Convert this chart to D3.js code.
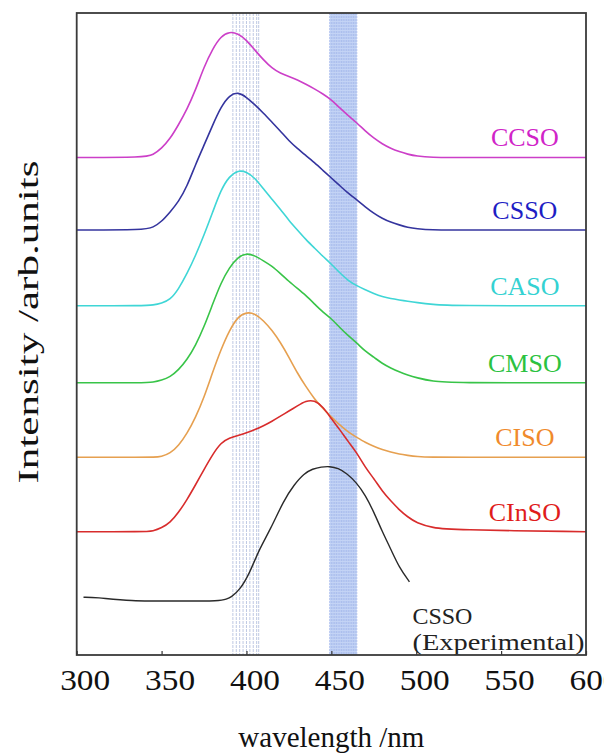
<!DOCTYPE html>
<html>
<head>
<meta charset="utf-8">
<script src="https://cdn.jsdelivr.net/npm/d3@7"></script>
<style>
  body { margin: 0; background: #fff; }
  svg { display: block; }
  text { font-family: "Liberation Serif", "Times New Roman", Times, serif; }
</style>
</head>
<body>
<svg id="chart"></svg>
<script>
// wavelength grid (nm) shared by the simulated spectra
var wavelengths = [300, 340, 345, 350, 355, 360, 365, 370, 375, 380, 385, 390, 395, 400, 405, 410, 415, 420, 425, 430,
                   435, 440, 445, 450, 455, 460, 465, 470, 475, 480, 485, 490, 495, 500, 510, 520, 600];

var ccso  = [0, 0, 0.4, 1.4, 2.9, 5.1, 7.5, 10.5, 14.1, 16.9, 18.9, 19.6, 19.3, 18.3, 16.7, 15.2, 13.9, 13.1, 12.6, 12.1,
             11.4, 10.7, 9.9, 9.0, 7.7, 6.5, 5.4, 4.1, 3.0, 2.1, 1.4, 0.9, 0.5, 0.2, 0, 0, 0];
var csso  = [0, 0, 0.4, 1.3, 2.8, 4.4, 6.8, 10.2, 13.2, 16.3, 19.2, 21.0, 21.5, 20.7, 19.5, 18.2, 16.8, 15.4, 13.9, 12.7,
             11.6, 10.5, 9.3, 8.1, 6.9, 5.7, 4.7, 3.6, 2.6, 1.8, 1.2, 0.8, 0.4, 0.2, 0, 0, 0];
var caso  = [0, 0, 0.1, 0.4, 0.9, 2.6, 5.0, 7.8, 11.0, 14.5, 18.1, 20.2, 21.1, 20.9, 19.9, 18.2, 16.6, 15.0, 13.3, 11.8,
             10.3, 9.0, 7.7, 6.5, 5.1, 3.9, 3.1, 2.5, 1.9, 1.4, 1.1, 0.9, 0.7, 0.5, 0.2, 0, 0];
var cmso  = [0, 0, 0.1, 0.4, 0.9, 2.0, 3.6, 5.8, 8.7, 12.2, 15.6, 18.0, 19.6, 20.2, 19.8, 19.0, 18.2, 17.0, 15.8, 14.7,
             13.6, 12.3, 11.0, 10.0, 8.6, 7.3, 6.2, 4.9, 4.0, 3.0, 2.3, 1.7, 1.2, 0.8, 0.2, 0, 0];
var ciso  = [0, 0, 0, 0.1, 0.6, 1.8, 3.7, 6.2, 9.3, 13.2, 16.8, 19.8, 21.9, 22.6, 22.4, 21.3, 19.8, 17.9, 15.6, 13.1,
             11.0, 9.1, 7.6, 6.3, 5.0, 3.9, 3.1, 2.3, 1.7, 1.2, 0.8, 0.5, 0.3, 0.1, 0, 0, 0];
var cinso = [0, 0, 0.1, 0.6, 1.4, 3.0, 5.0, 7.3, 9.7, 12.0, 13.9, 14.6, 15.0, 15.4, 15.9, 16.5, 17.2, 18.0, 18.8, 19.6,
             20.4, 20.5, 19.5, 17.6, 15.9, 14.0, 12.3, 10.0, 8.3, 6.3, 4.8, 3.4, 2.3, 1.4, 0.6, 0.3, 0];

var names   = ["CCSO", "CSSO", "CASO", "CMSO", "CISO", "CInSO"];
var offsets = [77.5, 66.2, 54.4, 42.4, 30.8, 19.2];   // vertical shift of each spectrum

// measured spectrum
var expWavelengths = [304, 311, 331, 360, 385, 388, 391, 396, 402, 407, 414, 422, 428, 434, 439, 444, 449, 454, 459, 465,
                      470, 475, 480, 485, 490, 496];
var expValues      = [9.0, 9.0, 8.4, 8.4, 8.4, 8.7, 9.0, 10.1, 12.8, 16.2, 19.5, 24.1, 26.5, 28.3, 29.0, 29.3, 29.4, 29.1, 28.3, 26.8,
                      24.9, 22.3, 19.2, 16.5, 13.6, 11.4];

// marked wavelengths
var thinLines = [392, 394, 396, 398, 400, 402, 404, 406, 407.2];
var bandFrom = 449, bandTo = 465;

var xTicks = [300, 350, 400, 450, 500, 550, 600];

var colors = ["#cc3fc8", "#34349e", "#3fd6d6", "#38c448", "#e6a050", "#d82c2c"];
var labelColors = ["#d024c8", "#1e1ec4", "#34d2d2", "#2cc240", "#f08a2c", "#e01c1c"];

var width = 604, height = 753;
var margin = { left: 76.7, top: 13, right: 18, bottom: 98 };
var innerW = width - margin.left - margin.right;
var innerH = height - margin.top - margin.bottom;

var svg = d3.select("#chart").attr("width", width).attr("height", height);
var g = svg.append("g").attr("transform", "translate(" + margin.left + "," + margin.top + ")");

var x = d3.scaleLinear().domain([300, 600]).range([0, innerW]);
var y = d3.scaleLinear().domain([0, 100]).range([innerH, 0]);

// shaded band
var bandG = g.append("g");
bandG.append("rect")
    .attr("x", x(bandFrom)).attr("y", 0)
    .attr("width", x(bandTo) - x(bandFrom)).attr("height", innerH)
    .attr("fill", "#c3d3f5");
bandG.selectAll("line")
    .data(d3.range(bandFrom, bandTo + 1, 1))
    .enter().append("line")
    .attr("x1", function(d) { return x(d); }).attr("x2", function(d) { return x(d); })
    .attr("y1", 0).attr("y2", innerH)
    .attr("stroke", "#a0b5e9").attr("stroke-width", 0.7)
    .attr("stroke-dasharray", "2,1");

g.append("g").selectAll("line")
    .data(thinLines)
    .enter().append("line")
    .attr("x1", function(d) { return x(d); }).attr("x2", function(d) { return x(d); })
    .attr("y1", 0).attr("y2", innerH)
    .attr("stroke", "#b8c3e0").attr("stroke-width", 0.9)
    .attr("stroke-dasharray", "3,1");

// spectra
var line = d3.line()
    .x(function(d) { return x(d[0]); })
    .y(function(d) { return y(d[1]); })
    .curve(d3.curveBasis);

var series = [ccso, csso, caso, cmso, ciso, cinso];
series.forEach(function(vals, i) {
    var pts = wavelengths.map(function(w, j) { return [w, vals[j] + offsets[i]]; });
    g.append("path")
        .datum(pts)
        .attr("d", line)
        .attr("fill", "none")
        .attr("stroke", colors[i])
        .attr("stroke-width", 1.6);

    g.append("text")
        .attr("x", x(564))
        .attr("y", y(offsets[i]) - 11)
        .attr("text-anchor", "middle")
        .attr("font-size", 26)
        .attr("fill", labelColors[i])
        .text(names[i]);
});

var expPts = expWavelengths.map(function(w, j) { return [w, expValues[j]]; });
g.append("path")
    .datum(expPts)
    .attr("d", line)
    .attr("fill", "none")
    .attr("stroke", "#2a2a2a")
    .attr("stroke-width", 1.4);

var expX = x(expWavelengths[expWavelengths.length - 1]) + 3;
g.append("text")
    .attr("x", expX).attr("y", innerH - 31)
    .attr("font-size", 24).attr("fill", "#222")
    .attr("textLength", 60).attr("lengthAdjust", "spacingAndGlyphs")
    .text("CSSO");
g.append("text")
    .attr("x", expX).attr("y", innerH - 5)
    .attr("font-size", 24).attr("fill", "#222")
    .attr("textLength", 172).attr("lengthAdjust", "spacingAndGlyphs")
    .text("(Experimental)");

// x axis with inward ticks
var xAxis = d3.axisBottom(x).tickValues(xTicks).tickSizeInner(-4).tickSizeOuter(0);
var xAxisG = g.append("g")
    .attr("transform", "translate(0," + innerH + ")")
    .call(xAxis);
xAxisG.select(".domain").remove();
xAxisG.selectAll(".tick line").attr("stroke", "#333").attr("stroke-width", 1.2);
xAxisG.selectAll(".tick text")
    .attr("y", 35).attr("dy", 0).attr("dx", 8)
    .attr("font-size", 30)
    .attr("font-family", "Liberation Serif, Times New Roman, serif")
    .attr("fill", "#111")
    .attr("textLength", 50).attr("lengthAdjust", "spacingAndGlyphs");

// frame
g.append("rect")
    .attr("x", 0).attr("y", 0)
    .attr("width", innerW).attr("height", innerH)
    .attr("fill", "none")
    .attr("stroke", "#3a3a3a")
    .attr("stroke-width", 1.8);

// axis titles
svg.append("text")
    .attr("x", margin.left + innerW / 2)
    .attr("y", 747)
    .attr("text-anchor", "middle")
    .attr("font-size", 29)
    .attr("fill", "#111")
    .text("wavelength /nm");

svg.append("text")
    .attr("transform", "translate(38," + 322 + ") rotate(-90)")
    .attr("text-anchor", "middle")
    .attr("font-size", 30)
    .attr("fill", "#111")
    .attr("textLength", 323).attr("lengthAdjust", "spacingAndGlyphs")
    .text("Intensity /arb.units");
</script>
</body>
</html>
